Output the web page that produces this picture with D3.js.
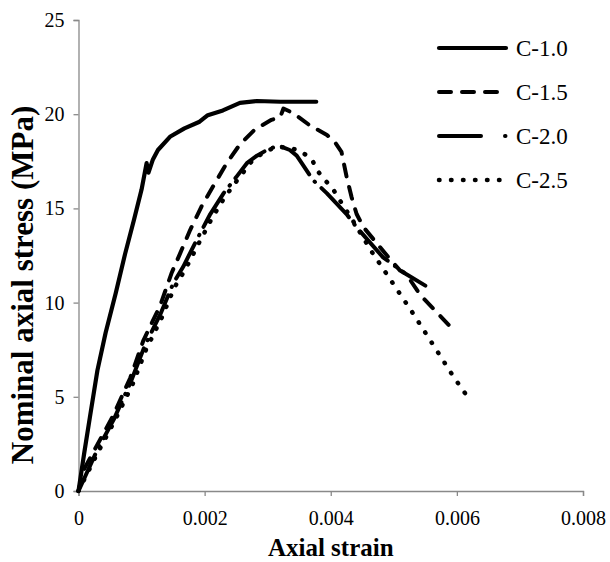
<!DOCTYPE html>
<html>
    <head>
        <meta charset="utf-8"/>
        <script src="https://cdnjs.cloudflare.com/ajax/libs/d3/7.8.5/d3.min.js"></script>
        <style>
            body { margin: 0; background: #fff; }
            text { font-family: "Liberation Serif", "Times New Roman", serif; }
        </style>
    </head>
    <body>
        <script>
            // strain / stress pairs
            const c10 = [[0,0],[0.00009,2.0],[0.00018,3.9],[0.0003,6.4],[0.00043,8.4],[0.00059,10.5],[0.00074,12.6],[0.00088,14.4],[0.001,16.0],[0.00108,17.4],[0.00111,16.9],[0.00118,17.6],[0.00126,18.1],[0.00145,18.8],[0.00168,19.25],[0.00192,19.6],[0.00205,19.95],[0.00229,20.2],[0.00256,20.6],[0.00283,20.7],[0.0032,20.66],[0.00377,20.66]];
            const c15 = [[0,0],[0.00008,1.1],[0.00029,2.4],[0.00055,4.0],[0.00082,6.0],[0.00103,8.0],[0.00129,9.8],[0.00148,11.6],[0.00161,12.6],[0.00177,13.85],[0.00195,15.1],[0.00214,16.2],[0.00235,17.4],[0.00256,18.4],[0.0028,19.2],[0.00306,19.7],[0.0032,19.85],[0.00325,20.3],[0.00341,20.05],[0.00367,19.4],[0.00394,18.9],[0.00407,18.5],[0.00417,18.0],[0.00425,16.7],[0.00433,15.6],[0.00441,14.7],[0.00452,14.0],[0.00473,13.15],[0.00494,12.3],[0.0051,11.7],[0.0052,11.5],[0.00542,10.4],[0.00579,9.1],[0.00596,8.5]];
            const c20 = [[0,0],[0.0003,2.2],[0.00056,3.8],[0.00083,5.8],[0.00105,7.7],[0.0013,9.4],[0.0015,11.0],[0.00166,11.9],[0.00187,13.3],[0.00209,14.7],[0.0023,15.8],[0.00251,16.7],[0.00267,17.4],[0.00283,17.8],[0.00304,18.2],[0.0032,18.3],[0.00335,18.1],[0.00346,17.8],[0.00354,17.4],[0.00372,16.5],[0.00394,15.8],[0.00425,14.7],[0.00441,14.0],[0.00483,12.4],[0.0052,11.5],[0.0055,10.9]];
            const c25 = [[0,0],[0.0003,2.0],[0.00057,3.7],[0.00085,5.6],[0.00107,7.5],[0.00132,9.2],[0.00152,10.8],[0.0017,11.8],[0.0019,13.1],[0.00212,14.5],[0.00232,15.6],[0.00254,16.6],[0.00277,17.6],[0.003,18.1],[0.0032,18.25],[0.00338,18.2],[0.00354,18.0],[0.0037,17.6],[0.0038,16.95],[0.00391,16.5],[0.00404,16.0],[0.00415,15.4],[0.00436,14.3],[0.00465,12.7],[0.00489,11.5],[0.00531,9.4],[0.00594,6.1],[0.00617,5.0]];

            const names = ["C-1.0", "C-1.5", "C-2.0", "C-2.5"];
            const xTicks = [0, 0.002, 0.004, 0.006, 0.008];
            const yTicks = [0, 5, 10, 15, 20, 25];

            function drawChart(){
                let margin = ({top: 20, right: 27, bottom: 71, left: 78.5});
                let width = 610;
                let height = 562;
                let series = [c10, c15, c20, c25];

                // one stroke style per specimen (legend gets its own for the dash-dot)
                let dash = ["none", "12,11", "40,9,0.5,9", "0.5,11.5"];
                let legDash = ["none", "12,11", "42,24,0.5,100", "0.5,11.5"];
                let widths = [4.2, 4, 4, 4.5];

                let x = d3.scaleLinear()
                        .domain([0, 0.008])
                        .range([margin.left, width - margin.right]);

                let y = d3.scaleLinear()
                        .domain([0, 25])
                        .range([height - margin.bottom, margin.top]);

                let line = d3.line()
                            .x(d => x(d[0]))
                            .y(d => y(d[1]));

                const svg = d3.select("body").append("svg")
                    .attr("width", width)
                    .attr("height", height);

                let xAxis = g => g
                        .attr("transform", `translate(0,${height - margin.bottom})`)
                        .call(d3.axisBottom(x).tickValues(xTicks).tickSize(5).tickFormat(d => d === 0 ? "0" : d3.format(".3f")(d)))
                        .call(g => g.selectAll("line, path").attr("stroke", "#898989").attr("stroke-width", 1.3))
                        .call(g => g.selectAll("text").attr("font-size", 20).attr("fill", "#000").attr("y", 20).attr("dy", "0.71em"));

                let yAxis = g => g
                        .attr("transform", `translate(${margin.left},0)`)
                        .call(d3.axisLeft(y).tickValues(yTicks).tickSize(5))
                        .call(g => g.selectAll("line, path").attr("stroke", "#898989").attr("stroke-width", 1.3))
                        .call(g => g.selectAll("text").attr("font-size", 20).attr("fill", "#000").attr("x", -14));

                svg.append("g").call(xAxis);
                svg.append("g").call(yAxis);

                svg.append("g")
                    .selectAll("path")
                    .data(series)
                    .join("path")
                    .attr("fill", "none")
                    .attr("stroke", "#000")
                    .attr("stroke-width", (d, i) => widths[i])
                    .attr("stroke-dasharray", (d, i) => dash[i])
                    .attr("stroke-linecap", "round")
                    .attr("stroke-linejoin", "round")
                    .attr("d", line);

                // legend
                let leg = svg.append("g");
                names.forEach((n, i) => {
                    let ly = 48 + i * 44;
                    leg.append("line")
                        .attr("x1", 439).attr("x2", 506)
                        .attr("y1", ly).attr("y2", ly)
                        .attr("stroke", "#000")
                        .attr("stroke-width", widths[i])
                        .attr("stroke-dasharray", legDash[i])
                        .attr("stroke-linecap", "round");
                    leg.append("text")
                        .attr("x", 516).attr("y", ly)
                        .attr("dy", "0.35em")
                        .attr("font-size", 23)
                        .text(n);
                });

                svg.append("text")
                    .attr("x", (margin.left + width - margin.right) / 2)
                    .attr("y", 556)
                    .attr("text-anchor", "middle")
                    .attr("font-size", 25)
                    .attr("font-weight", "bold")
                    .text("Axial strain");

                svg.append("text")
                    .attr("transform", `translate(33,285) rotate(-90)`)
                    .attr("text-anchor", "middle")
                    .attr("font-size", 31)
                    .attr("font-weight", "bold")
                    .text("Nominal axial stress (MPa)");
            }
            drawChart();
        </script>
    </body>
</html>
